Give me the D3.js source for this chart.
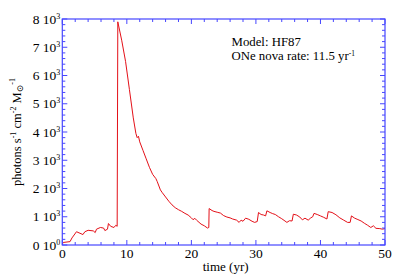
<!DOCTYPE html>
<html><head><meta charset="utf-8">
<script src="https://cdn.jsdelivr.net/npm/d3@7"></script>
<style>body{margin:0;background:#fff}svg{display:block}text{font-family:"Liberation Serif","DejaVu Serif",serif;fill:#000}</style>
</head><body>
<svg id="c" width="399" height="279"></svg>
<script>
const time = [0,0.15,1.2,1.5,2.2,3.2,3.5,4.0,4.8,5.1,5.3,5.9,6.4,6.6,7.0,7.15,7.5,8.0,8.3,8.5,8.6,
 9.2,9.8,10.4,11.0,11.4,11.6,11.8,12.0,12.5,13.0,13.5,14.0,14.5,14.7,15.2,15.5,16.0,16.5,17.0,17.5,18.0,18.5,19.0,19.5,20.0,20.3,20.5,20.8,21.5,22.0,22.5,22.7,
 22.75,23.2,23.5,24.0,24.5,25.0,25.5,26.0,26.4,27.0,27.4,27.7,28.0,28.4,28.9,29.4,29.8,30.2,30.4,30.8,31.2,31.5,31.7,32.2,32.6,33.0,33.5,34.0,34.5,34.8,35.2,35.6,35.8,
 36.3,36.8,37.2,37.6,38.1,38.5,38.8,39.0,39.5,40.0,40.5,41.0,41.2,41.8,42.4,43.0,43.6,44.2,44.6,44.8,45.3,45.8,46.3,46.8,47.3,47.8,48.2,48.6,49.2,49.6,50.0];
const flux = [30,90,120,250,470,370,470,520,500,440,560,620,600,510,560,760,660,620,700,660,7900,
 7250,6500,5500,4500,3950,3800,3850,3650,3350,3050,2750,2500,2350,2250,1950,1850,1700,1550,1420,1320,1250,1190,1120,1060,960,890,950,880,740,680,600,620,
 1290,1220,1190,1160,1130,1040,990,960,920,880,800,880,840,950,910,840,800,830,1150,1080,1060,1030,1210,1150,1110,1080,1000,930,850,800,860,850,1090,
 1060,990,890,950,880,960,1000,1120,1080,1030,980,920,1180,1150,1070,960,880,800,800,1030,950,900,850,770,700,620,680,590,580,560,580];
const xTicks = [0,10,20,30,40,50];
const yTicks = [0,1000,2000,3000,4000,5000,6000,7000,8000];
const yTickLabels = [["0","0"],["1","3"],["2","3"],["3","3"],["4","3"],["5","3"],["6","3"],["7","3"],["8","3"]];
const annot1 = "Model: HF87";
const annot2 = "ONe nova rate: 11.5 yr";

const svg = d3.select("#c");
const L=62.3, R=385, T=19, B=245;
const x = d3.scaleLinear().domain([0,50]).range([L,R]);
const y = d3.scaleLinear().domain([0,8000]).range([B,T]);
const blue = "#4646ff";

svg.append("path").datum(d3.zip(time,flux))
  .attr("fill","none").attr("stroke","#e41018").attr("stroke-width",1)
  .attr("d", d3.line().x(d=>x(d[0])).y(d=>y(d[1])));

const g = svg.append("g").attr("stroke",blue).attr("stroke-width",1);
const xMinor = d3.range(0,50.01,2), yMinor = d3.range(0,8000.1,200);
xMinor.forEach(v=>{
  const len = (v%10===0)?5:3;
  g.append("line").attr("x1",x(v)).attr("x2",x(v)).attr("y1",B).attr("y2",B-len);
  g.append("line").attr("x1",x(v)).attr("x2",x(v)).attr("y1",T).attr("y2",T+len);
});
yMinor.forEach(v=>{
  const len = (v%1000===0)?5:3;
  g.append("line").attr("y1",y(v)).attr("y2",y(v)).attr("x1",L).attr("x2",L+len);
  g.append("line").attr("y1",y(v)).attr("y2",y(v)).attr("x1",R).attr("x2",R-len);
});
svg.append("rect").attr("x",L).attr("y",T).attr("width",R-L).attr("height",B-T)
  .attr("fill","none").attr("stroke",blue).attr("stroke-width",1.2);

xTicks.forEach(v=>{
  svg.append("text").attr("x",x(v)).attr("y",B+12.5).attr("text-anchor","middle")
    .attr("font-size",13.5).text(v);
});
yTicks.forEach((v,i)=>{
  const t = svg.append("text").attr("x",L-2).attr("y",y(v)+4.5).attr("text-anchor","end").attr("font-size",13.5);
  t.append("tspan").text(yTickLabels[i][0]+" 10");
  t.append("tspan").attr("font-size",8).attr("dy",-5).text(yTickLabels[i][1]);
});

svg.append("text").attr("x",(L+R)/2+2).attr("y",271).attr("text-anchor","middle").attr("font-size",13).text("time (yr)");
const yl = svg.append("text").attr("transform",`translate(21,${(T+B)/2}) rotate(-90)`).attr("text-anchor","middle").attr("font-size",12.5);
yl.append("tspan").text("photons s");
yl.append("tspan").attr("font-size",8).attr("dy",-5).text("-1");
yl.append("tspan").attr("dy",5).text(" cm");
yl.append("tspan").attr("font-size",8).attr("dy",-5).text("-2");
yl.append("tspan").attr("dy",5).text(" M");
yl.append("tspan").attr("font-size",9).attr("dy",2).text("⊙");
yl.append("tspan").attr("font-size",8).attr("dy",-8).text("-1");

svg.append("text").attr("x",231.5).attr("y",45.5).attr("font-size",12.8).text(annot1);
const a2 = svg.append("text").attr("x",231.5).attr("y",60).attr("font-size",12.8);
a2.append("tspan").text(annot2);
a2.append("tspan").attr("font-size",7.5).attr("dy",-4.5).text("-1");
</script>
</body></html>
